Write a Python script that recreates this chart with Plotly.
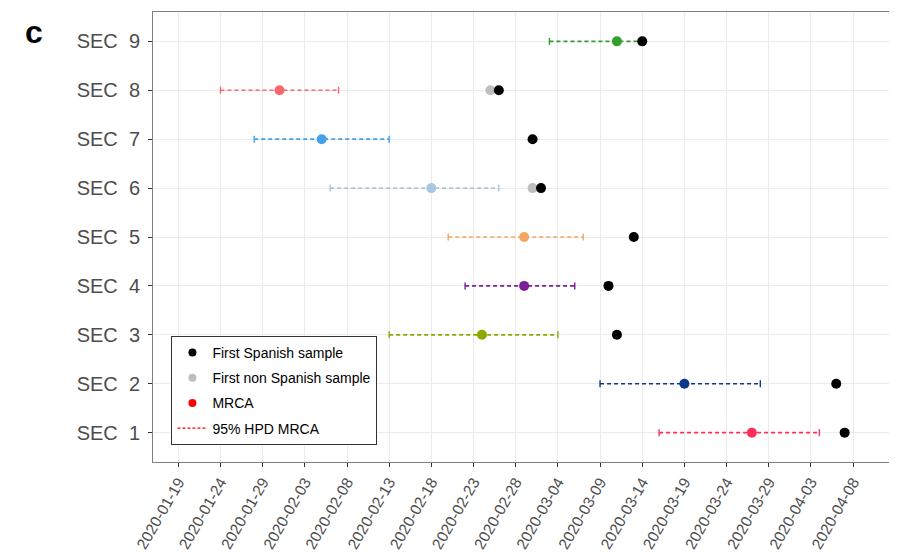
import plotly.graph_objects as go

# ---- data ----
sec_labels = ["SEC  1", "SEC  2", "SEC  3", "SEC  4", "SEC  5", "SEC  6", "SEC  7", "SEC  8", "SEC  9"]
sec_pos = [1, 2, 3, 4, 5, 6, 7, 8, 9]
mrca = ["2020-03-27", "2020-03-19", "2020-02-24", "2020-02-29", "2020-02-29",
        "2020-02-18", "2020-02-05", "2020-01-31", "2020-03-11"]
hpd_low = ["2020-03-16", "2020-03-09", "2020-02-13", "2020-02-22", "2020-02-20",
           "2020-02-06", "2020-01-28", "2020-01-24", "2020-03-03"]
hpd_high = ["2020-04-04", "2020-03-28", "2020-03-04", "2020-03-06", "2020-03-07",
            "2020-02-26", "2020-02-13", "2020-02-07", "2020-03-14"]
first_spanish = ["2020-04-07", "2020-04-06", "2020-03-11", "2020-03-10", "2020-03-13",
                 "2020-03-02", "2020-03-01", "2020-02-26", "2020-03-14"]
nonspanish_sec = [6, 8]
first_nonspanish = ["2020-03-01", "2020-02-25"]
sec_colors = ["#FF2E5E", "#0B3A8A", "#8FA800", "#7B1E99", "#F4A660",
              "#A9C7DE", "#45A0EA", "#FA6670", "#33A02C"]
x_ticks = ["2020-01-19", "2020-01-24", "2020-01-29", "2020-02-03", "2020-02-08",
           "2020-02-13", "2020-02-18", "2020-02-23", "2020-02-28", "2020-03-04",
           "2020-03-09", "2020-03-14", "2020-03-19", "2020-03-24", "2020-03-29",
           "2020-04-03", "2020-04-08"]

fig = go.Figure()

# HPD dashed intervals with caps, and MRCA points
for i, y in enumerate(sec_pos):
    c = sec_colors[i]
    fig.add_trace(go.Scatter(
        x=[hpd_low[i], hpd_high[i]], y=[y, y], mode="lines",
        line=dict(color=c, width=1.6, dash="4px,3px"),
        showlegend=False, hoverinfo="skip"))
    fig.add_trace(go.Scatter(
        x=[hpd_low[i], hpd_high[i]], y=[y, y], mode="markers",
        marker=dict(symbol="line-ns-open", size=5, color=c, line=dict(color=c, width=1.4)),
        showlegend=False, hoverinfo="skip"))

# First non Spanish sample
fig.add_trace(go.Scatter(
    x=first_nonspanish, y=nonspanish_sec, mode="markers",
    marker=dict(color="#BEBEBE", size=10), showlegend=False))

# First Spanish sample
fig.add_trace(go.Scatter(
    x=first_spanish, y=sec_pos, mode="markers",
    marker=dict(color="black", size=10), showlegend=False))

# MRCA
fig.add_trace(go.Scatter(
    x=mrca, y=sec_pos, mode="markers",
    marker=dict(color=sec_colors, size=10), showlegend=False))

# legend entries
fig.add_trace(go.Scatter(x=[None], y=[None], mode="markers", legendgroup="a",
                         marker=dict(color="black", size=8), name="First Spanish sample"))
fig.add_trace(go.Scatter(x=[None], y=[None], mode="markers", legendgroup="b",
                         marker=dict(color="#BEBEBE", size=8), name="First non Spanish sample"))
fig.add_trace(go.Scatter(x=[None], y=[None], mode="markers", legendgroup="c",
                         marker=dict(color="#FF0000", size=8), name="MRCA"))
fig.add_trace(go.Scatter(x=[None], y=[None], mode="lines", legendgroup="d",
                         line=dict(color="#FF0000", width=1.3, dash="3px,2px"), name="95% HPD MRCA"))

fig.update_layout(
    width=889, height=546,
    margin=dict(l=145, r=7, t=4, b=92),
    paper_bgcolor="white", plot_bgcolor="white",
    font=dict(family="Liberation Sans, Arial, sans-serif", color="#4D4D4D"),
    showlegend=True,
    legend=dict(x=0.025, y=0.038, xanchor="left", yanchor="bottom",
                bordercolor="#333333", borderwidth=1, bgcolor="white",
                font=dict(size=14, color="black"), tracegroupgap=4,
                itemwidth=30),
    annotations=[dict(text="<b>c</b>", xref="paper", yref="paper",
                      x=-0.176, y=0.955, xanchor="left", yanchor="middle",
                      showarrow=False, font=dict(size=32, color="black",
                                                 family="Liberation Sans, Arial"))],
)

fig.update_xaxes(
    type="date", range=["2020-01-16", "2020-04-12 09:00"],
    tickvals=x_ticks, ticktext=x_ticks, tickangle=-60,
    tickfont=dict(size=15.5, color="#4D4D4D"), automargin=False,
    showgrid=True, gridcolor="#EBEBEB", gridwidth=1,
    showline=True, linecolor="#7F7F7F", linewidth=1, mirror=True,
    ticks="outside", ticklen=4, tickcolor="#333333", zeroline=False)

fig.update_yaxes(
    range=[0.4, 9.6], tickvals=sec_pos, ticktext=sec_labels,
    tickfont=dict(size=20, color="#4D4D4D"), automargin=False,
    ticklabelstandoff=4,
    showgrid=True, gridcolor="#EBEBEB", gridwidth=1,
    showline=True, linecolor="#7F7F7F", linewidth=1, mirror=True,
    ticks="outside", ticklen=4, tickcolor="#333333", zeroline=False)

fig.write_html("out.html")
